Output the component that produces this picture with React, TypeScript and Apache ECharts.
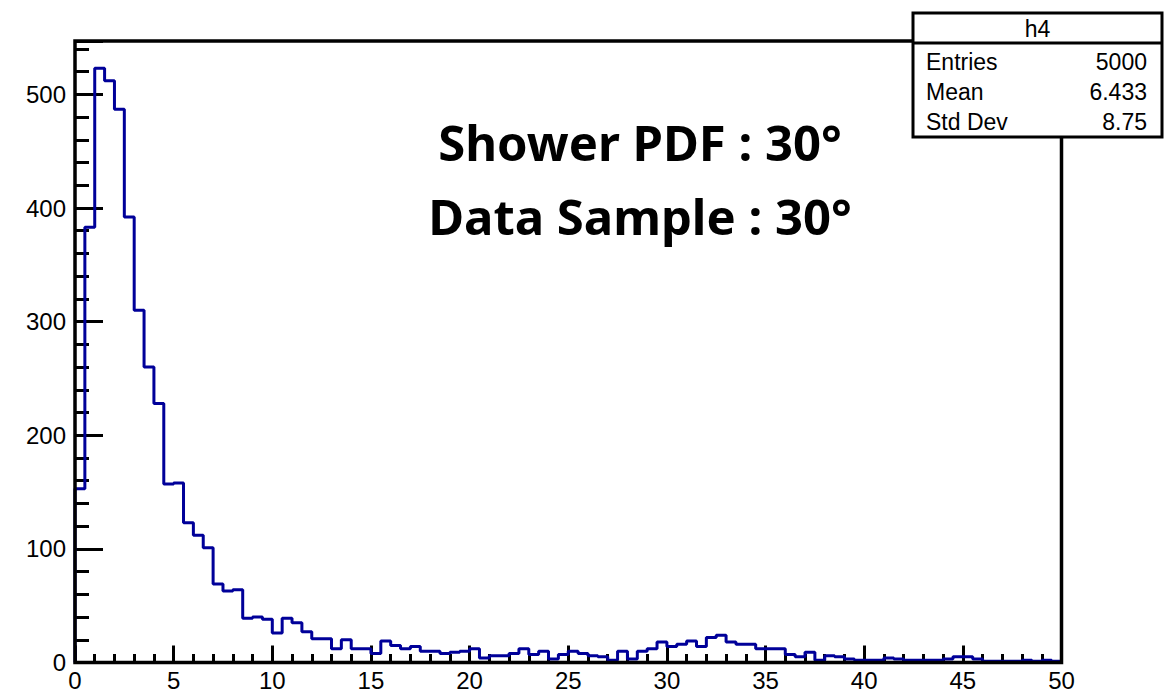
import React, { useEffect, useRef } from "react";
import * as echarts from "echarts";

// ---- Data ----
const X_MIN = 0;
const X_MAX = 50;
const BIN_WIDTH = 0.5;
const Y_MAX = 547;

// Bin contents for h4 (100 bins of width 0.5 from 0 to 50)
const counts: number[] = [
  153, 383, 523, 512, 487, 392, 310, 260, 228, 157,
  158, 123, 112, 101, 69, 63, 64, 39, 40, 38,
  26, 39, 35, 27, 21, 21, 12, 20, 12, 12,
  8, 19, 15, 12, 14, 10, 10, 8, 9, 10,
  12, 4, 6, 6, 8, 12, 7, 10, 3, 7,
  10, 8, 6, 5, 2, 10, 3, 10, 12, 18,
  14, 16, 19, 14, 22, 24, 18, 16, 16, 12,
  12, 12, 7, 5, 9, 2, 6, 5, 3, 2,
  2, 2, 4, 3, 2, 2, 2, 2, 3, 5,
  5, 3, 1, 1, 1, 1, 2, 1, 2, 1,
];

const X_MAJOR_STEP = 5;
const X_MINOR_STEP = 1;
const Y_MAJOR_STEP = 100;
const Y_MINOR_STEP = 20;

const titleLines = ["Shower PDF : 30°", "Data Sample : 30°"];
const statsName = "h4";
const statsLabels = ["Entries", "Mean", "Std Dev"];
const statsValues = ["5000", "6.433", "8.75"];

const LINE_COLOR = "#000099";

export default function App() {
  const ref = useRef<HTMLDivElement | null>(null);

  useEffect(() => {
    if (!ref.current) return;
    const chart = echarts.init(ref.current, undefined, { renderer: "svg" });

    const stepData: number[][] = [[X_MIN, 0]];
    counts.forEach((v, i) => stepData.push([X_MIN + i * BIN_WIDTH, v]));
    stepData.push([X_MAX, counts[counts.length - 1]]);

    const tickFont = {
      fontFamily: "Liberation Sans",
      fontSize: 24,
      color: "#000",
    };

    const gl = 75, gt = 41, gw = 986.5, gh = 621.5;

    const statsX = 913, statsY = 13, statsW = 249, statsH = 124;
    const rowY = [62, 92, 122];

    const graphic: any[] = [
      ...titleLines.map((t, i) => ({
        type: "text",
        x: 640,
        y: 142 + i * 74,
        z: 10,
        style: {
          text: t,
          fontFamily: "Noto Sans",
          fontWeight: "bold",
          fontSize: 49,
          fill: "#000",
          align: "center",
          textAlign: "center",
          verticalAlign: "middle",
          textVerticalAlign: "middle",
        },
      })),
      {
        type: "rect",
        z: 10,
        shape: { x: statsX, y: statsY, width: statsW, height: statsH },
        style: { fill: "#fff", stroke: "#000", lineWidth: 3 },
      },
      {
        type: "line",
        z: 11,
        shape: { x1: statsX, y1: 43, x2: statsX + statsW, y2: 43 },
        style: { stroke: "#000", lineWidth: 3 },
      },
      {
        type: "text",
        z: 11,
        x: statsX + statsW / 2,
        y: 29,
        style: {
          text: statsName,
          fontFamily: "Liberation Sans",
          fontSize: 23,
          fill: "#000",
          align: "center",
          textAlign: "center",
          verticalAlign: "middle",
          textVerticalAlign: "middle",
        },
      },
      ...statsLabels.map((t, i) => ({
        type: "text",
        z: 11,
        x: 926,
        y: rowY[i],
        style: {
          text: t,
          fontFamily: "Liberation Sans",
          fontSize: 23,
          fill: "#000",
          align: "left",
          textAlign: "left",
          verticalAlign: "middle",
          textVerticalAlign: "middle",
        },
      })),
      ...statsValues.map((t, i) => ({
        type: "text",
        z: 11,
        x: 1147,
        y: rowY[i],
        style: {
          text: t,
          fontFamily: "Liberation Sans",
          fontSize: 23,
          fill: "#000",
          align: "right",
          textAlign: "right",
          verticalAlign: "middle",
          textVerticalAlign: "middle",
        },
      })),
    ];

    chart.setOption({
      animation: false,
      backgroundColor: "#fff",
      grid: {
        left: gl,
        top: gt,
        width: gw,
        height: gh,
        containLabel: false,
        show: true,
        borderColor: "#000",
        borderWidth: 3.5,
        backgroundColor: "transparent",
        z: 4,
      },
      xAxis: [
        {
          type: "value",
          min: X_MIN,
          max: X_MAX,
          interval: X_MAJOR_STEP,
          axisLine: { show: false },
          axisTick: { show: true, inside: true, length: 17, lineStyle: { color: "#000", width: 3 } },
          minorTick: { show: true, splitNumber: X_MAJOR_STEP / X_MINOR_STEP, length: 8.5, lineStyle: { color: "#000", width: 3 } },
          splitLine: { show: false },
          axisLabel: { ...tickFont, margin: 6 },
        },
      ],
      yAxis: [
        {
          type: "value",
          min: 0,
          max: Y_MAX,
          interval: Y_MAJOR_STEP,
          axisLine: { show: false },
          axisTick: { show: true, inside: true, length: 28, lineStyle: { color: "#000", width: 3 } },
          splitLine: { show: false },
          axisLabel: {
            ...tickFont,
            margin: 9,
            formatter: (v: number) => (v % Y_MAJOR_STEP === 0 ? String(v) : ""),
          },
        },
        {
          type: "value",
          min: 0,
          max: Y_MAX,
          interval: Y_MINOR_STEP,
          position: "left",
          axisLine: { show: false },
          axisTick: { show: true, inside: true, length: 14, lineStyle: { color: "#000", width: 3 } },
          splitLine: { show: false },
          axisLabel: { show: false },
        },
      ],
      series: [
        {
          type: "line",
          step: "end",
          data: stepData,
          showSymbol: false,
          symbol: "none",
          xAxisIndex: 0,
          yAxisIndex: 0,
          lineStyle: { color: LINE_COLOR, width: 3 },
          clip: true,
          z: 2,
        },
      ],
      graphic,
    });

    return () => chart.dispose();
  }, []);

  return (
    <div
      ref={ref}
      style={{ position: "absolute", left: 0, top: 0, width: 1176, height: 693, background: "#fff" }}
    />
  );
}
